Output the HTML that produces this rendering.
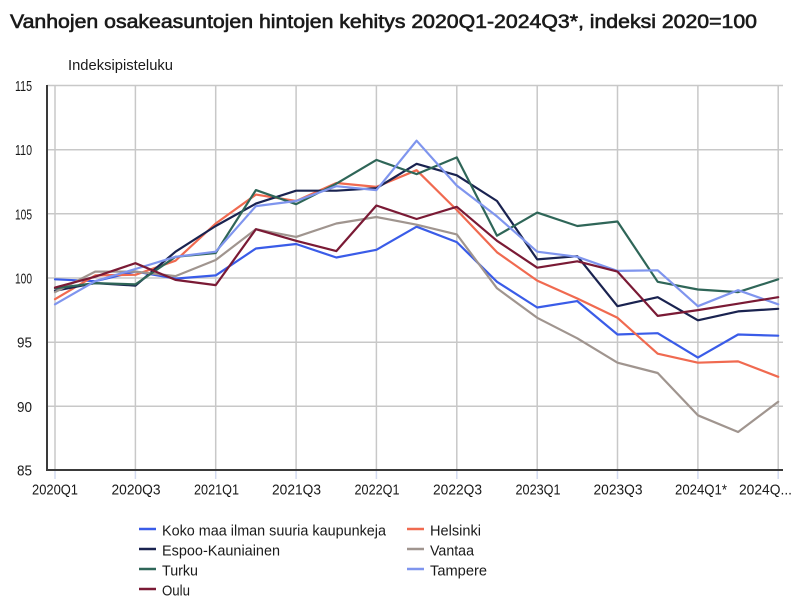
<!DOCTYPE html>
<html>
<head>
<meta charset="utf-8">
<style>
  html, body { margin: 0; padding: 0; background: #ffffff; }
  svg { display: block; }
  text { font-family: "Liberation Sans", "DejaVu Sans", sans-serif; fill: #1a1a1a; }
</style>
</head>
<body>
<svg width="800" height="601" viewBox="0 0 800 601" xmlns="http://www.w3.org/2000/svg">
  <rect x="0" y="0" width="800" height="601" fill="#ffffff"/>

  <!-- Title -->
  <text x="10" y="28" font-size="19" stroke="#1a1a1a" stroke-width="0.6" textLength="747" lengthAdjust="spacingAndGlyphs">Vanhojen osakeasuntojen hintojen kehitys 2020Q1-2024Q3*, indeksi 2020=100</text>

  <!-- Axis title -->
  <text x="68" y="70" font-size="15" textLength="105" lengthAdjust="spacingAndGlyphs">Indeksipisteluku</text>

  <!-- Horizontal gridlines -->
  <g stroke="#c8c8c8" stroke-width="1.5">
    <line x1="47" y1="85.5" x2="783" y2="85.5"/>
    <line x1="47" y1="149.7" x2="783" y2="149.7"/>
    <line x1="47" y1="213.8" x2="783" y2="213.8"/>
    <line x1="47" y1="278" x2="783" y2="278"/>
    <line x1="47" y1="342.2" x2="783" y2="342.2"/>
    <line x1="47" y1="406.3" x2="783" y2="406.3"/>
  </g>

  <!-- Vertical gridlines -->
  <g stroke="#c8c8c8" stroke-width="1.5">
    <line x1="55" y1="85.5" x2="55" y2="470"/>
    <line x1="135.4" y1="85.5" x2="135.4" y2="470"/>
    <line x1="215.7" y1="85.5" x2="215.7" y2="470"/>
    <line x1="296.1" y1="85.5" x2="296.1" y2="470"/>
    <line x1="376.4" y1="85.5" x2="376.4" y2="470"/>
    <line x1="456.8" y1="85.5" x2="456.8" y2="470"/>
    <line x1="537.2" y1="85.5" x2="537.2" y2="470"/>
    <line x1="617.5" y1="85.5" x2="617.5" y2="470"/>
    <line x1="697.9" y1="85.5" x2="697.9" y2="470"/>
    <line x1="778.2" y1="85.5" x2="778.2" y2="470"/>
  </g>
  <!-- Tick marks below axis -->
  <g stroke="#d3daf0" stroke-width="1.5">
    <line x1="55" y1="470" x2="55" y2="479"/>
    <line x1="135.4" y1="470" x2="135.4" y2="479"/>
    <line x1="215.7" y1="470" x2="215.7" y2="479"/>
    <line x1="296.1" y1="470" x2="296.1" y2="479"/>
    <line x1="376.4" y1="470" x2="376.4" y2="479"/>
    <line x1="456.8" y1="470" x2="456.8" y2="479"/>
    <line x1="537.2" y1="470" x2="537.2" y2="479"/>
    <line x1="617.5" y1="470" x2="617.5" y2="479"/>
    <line x1="697.9" y1="470" x2="697.9" y2="479"/>
    <line x1="778.2" y1="470" x2="778.2" y2="479"/>
  </g>

  <!-- Axes -->
  <line x1="47" y1="85" x2="47" y2="471" stroke="#3a3a3a" stroke-width="2"/>
  <line x1="46" y1="470" x2="783" y2="470" stroke="#3a3a3a" stroke-width="2"/>

  <!-- Y labels -->
  <g font-size="15">
    <text x="15" y="91" textLength="17" lengthAdjust="spacingAndGlyphs">115</text>
    <text x="15" y="155.2" textLength="17" lengthAdjust="spacingAndGlyphs">110</text>
    <text x="15" y="219.3" textLength="17" lengthAdjust="spacingAndGlyphs">105</text>
    <text x="15" y="283.5" textLength="17" lengthAdjust="spacingAndGlyphs">100</text>
    <text x="17" y="347.7" textLength="15" lengthAdjust="spacingAndGlyphs">95</text>
    <text x="17" y="411.8" textLength="15" lengthAdjust="spacingAndGlyphs">90</text>
    <text x="17" y="475.5" textLength="15" lengthAdjust="spacingAndGlyphs">85</text>
  </g>

  <!-- X labels -->
  <g font-size="15" text-anchor="middle">
    <text x="55" y="494.5" textLength="46" lengthAdjust="spacingAndGlyphs">2020Q1</text>
    <text x="136" y="494.5" textLength="49" lengthAdjust="spacingAndGlyphs">2020Q3</text>
    <text x="216.5" y="494.5" textLength="45" lengthAdjust="spacingAndGlyphs">2021Q1</text>
    <text x="296.5" y="494.5" textLength="49" lengthAdjust="spacingAndGlyphs">2021Q3</text>
    <text x="377" y="494.5" textLength="45" lengthAdjust="spacingAndGlyphs">2022Q1</text>
    <text x="457.5" y="494.5" textLength="49" lengthAdjust="spacingAndGlyphs">2022Q3</text>
    <text x="538" y="494.5" textLength="45" lengthAdjust="spacingAndGlyphs">2023Q1</text>
    <text x="618" y="494.5" textLength="49" lengthAdjust="spacingAndGlyphs">2023Q3</text>
    <text x="701" y="494.5" textLength="52" lengthAdjust="spacingAndGlyphs">2024Q1*</text>
  </g>
  <text x="739" y="494.5" font-size="15" textLength="53" lengthAdjust="spacingAndGlyphs">2024Q...</text>

  <!-- Series -->
  <g fill="none" stroke-width="2.2" stroke-linejoin="round" stroke-linecap="round">
    <!-- Koko maa -->
    <polyline stroke="#3a5ce8" points="55,279.3 95.2,281.2 135.4,271.6 175.5,278.6 215.7,275.4 255.9,248.5 296.1,244.0 336.3,257.5 376.4,249.8 416.6,226.7 456.8,242.1 497.0,281.8 537.2,307.5 577.3,301.1 617.5,334.5 657.7,333.2 697.9,357.6 738.1,334.5 778.2,335.7"/>
    <!-- Helsinki -->
    <polyline stroke="#f06a50" points="55,299.2 95.2,275.4 135.4,274.8 175.5,260.7 215.7,223.5 255.9,194.6 296.1,201.0 336.3,183.0 376.4,186.9 416.6,170.2 456.8,210.0 497.0,252.3 537.2,280.6 577.3,298.5 617.5,317.8 657.7,353.7 697.9,362.7 738.1,361.4 778.2,376.8"/>
    <!-- Espoo-Kauniainen -->
    <polyline stroke="#1a2350" points="55,290.8 95.2,283.1 135.4,285.6 175.5,251.7 215.7,226.0 255.9,203.6 296.1,190.7 336.3,190.7 376.4,188.2 416.6,163.8 456.8,175.3 497.0,201.0 537.2,259.4 577.3,256.2 617.5,306.2 657.7,297.2 697.9,320.3 738.1,311.4 778.2,308.8"/>
    <!-- Vantaa -->
    <polyline stroke="#a0958f" points="55,292.1 95.2,271.6 135.4,271.6 175.5,276.1 215.7,260.0 255.9,229.2 296.1,236.9 336.3,223.5 376.4,217.0 416.6,224.7 456.8,234.4 497.0,288.3 537.2,317.8 577.3,338.3 617.5,362.7 657.7,373.0 697.9,415.3 738.1,432.0 778.2,401.8"/>
    <!-- Turku -->
    <polyline stroke="#2f6658" points="55,288.3 95.2,283.1 135.4,284.4 175.5,256.8 215.7,253.0 255.9,190.1 296.1,204.2 336.3,183.7 376.4,159.9 416.6,174.1 456.8,157.4 497.0,235.7 537.2,212.6 577.3,226.0 617.5,221.5 657.7,281.8 697.9,289.5 738.1,292.1 778.2,279.3"/>
    <!-- Tampere -->
    <polyline stroke="#7f95ee" points="55,304.3 95.2,281.2 135.4,269.0 175.5,256.8 215.7,251.7 255.9,206.1 296.1,201.0 336.3,186.2 376.4,190.1 416.6,140.7 456.8,185.6 497.0,216.4 537.2,251.7 577.3,256.8 617.5,270.9 657.7,270.3 697.9,306.2 738.1,290.2 778.2,304.3"/>
    <!-- Oulu -->
    <polyline stroke="#7a1a35" points="55,287.6 95.2,276.7 135.4,263.2 175.5,279.9 215.7,285.1 255.9,229.2 296.1,240.8 336.3,251.1 376.4,205.5 416.6,219.0 456.8,206.8 497.0,240.8 537.2,267.7 577.3,261.3 617.5,271.6 657.7,315.9 697.9,310.1 738.1,303.7 778.2,297.2"/>
  </g>

  <!-- Legend -->
  <g stroke-width="2.5">
    <line x1="139" y1="529" x2="156" y2="529" stroke="#3a5ce8"/>
    <line x1="139" y1="549" x2="156" y2="549" stroke="#1a2350"/>
    <line x1="139" y1="569" x2="156" y2="569" stroke="#2f6658"/>
    <line x1="139" y1="589" x2="156" y2="589" stroke="#7a1a35"/>
    <line x1="407" y1="529" x2="424" y2="529" stroke="#f06a50"/>
    <line x1="407" y1="549" x2="424" y2="549" stroke="#a0958f"/>
    <line x1="407" y1="569" x2="424" y2="569" stroke="#7f95ee"/>
  </g>
  <g font-size="15">
    <text x="162" y="535.5" textLength="224" lengthAdjust="spacingAndGlyphs">Koko maa ilman suuria kaupunkeja</text>
    <text x="162" y="555.5" textLength="118" lengthAdjust="spacingAndGlyphs">Espoo-Kauniainen</text>
    <text x="162" y="575.5" textLength="36" lengthAdjust="spacingAndGlyphs">Turku</text>
    <text x="162" y="595.5" textLength="28" lengthAdjust="spacingAndGlyphs">Oulu</text>
    <text x="430" y="535.5" textLength="51" lengthAdjust="spacingAndGlyphs">Helsinki</text>
    <text x="430" y="555.5" textLength="44" lengthAdjust="spacingAndGlyphs">Vantaa</text>
    <text x="430" y="575.5" textLength="57" lengthAdjust="spacingAndGlyphs">Tampere</text>
  </g>
</svg>
</body>
</html>
